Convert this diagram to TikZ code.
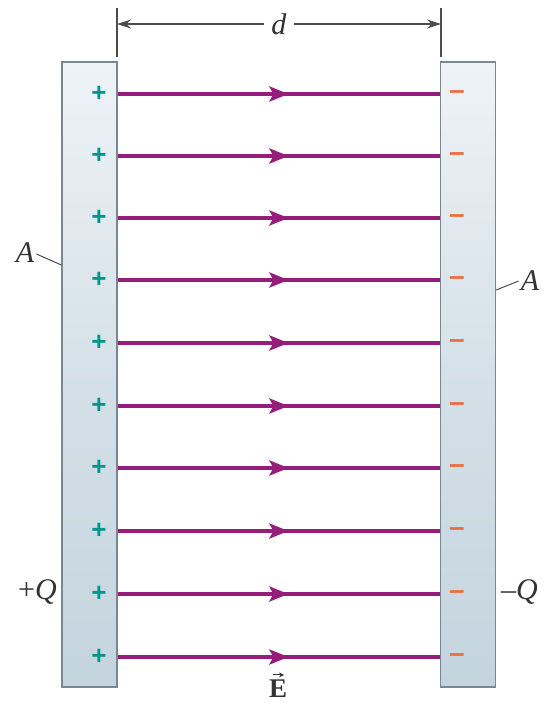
\documentclass[tikz,border=0pt]{standalone}
\usepackage{fontspec}
\setmainfont{Liberation Serif}
\newfontfamily\signfont{Liberation Sans}
\usetikzlibrary{arrows.meta,decorations.markings}
\definecolor{fieldc}{RGB}{148,30,122}
\definecolor{plusc}{RGB}{0,150,140}
\definecolor{minusc}{RGB}{238,110,60}
\definecolor{plateL}{RGB}{238,243,247}
\definecolor{plateD}{RGB}{196,212,222}
\definecolor{plateB}{RGB}{120,135,145}
\tikzset{
  plate/.style={draw=plateB, line width=1.3pt, minimum width=55pt, minimum height=625pt, inner sep=0pt,
    top color=plateL, bottom color=plateD, middle color=plateD!60!plateL},
  fieldline/.style={draw=fieldc, line width=3.6pt,
    postaction={decorate},
    decoration={markings, mark=at position 0.53 with {\arrow{Stealth[length=19pt,width=15pt,fill=fieldc,inset=4pt]}}}},
  plussign/.style={text=plusc, font=\signfont\bfseries\fontsize{26}{26}\selectfont, inner sep=0pt},
  minussign/.style={text=minusc, font=\signfont\bfseries\fontsize{28}{28}\selectfont, inner sep=0pt},
  lbl/.style={font=\fontsize{30}{32}\selectfont, inner sep=1pt, text=black!80},
  dimline/.style={draw=black!70, line width=1.2pt},
  leader/.style={draw=black!70, line width=1pt}
}
\begin{document}
\begin{tikzpicture}[x=1pt,y=-1pt]
\path[use as bounding box, fill=white] (0,0) rectangle (543,703);
\node[plate] (L) at (89.5,374.5) {};
\node[plate] (R) at (468,374.5) {};
% dimension
\coordinate (tl) at (117,8);
\coordinate (tr) at (441,8);
\draw[dimline] (tl) -- (117,57);
\draw[dimline] (tr) -- (441,57);
\node[lbl, fill=white, inner xsep=7pt] (d) at (279,24) {\textit{d}};
\draw[dimline, -{Stealth[length=14pt,width=9pt]}] (d.west) -- (117,24);
\draw[dimline, -{Stealth[length=14pt,width=9pt]}] (d.east) -- (441,24);
% field lines and charges
\foreach \i/\y in {1/94,2/156,3/218,4/280,5/343,6/406,7/468,8/531,9/594,10/657}{
  \node[plussign] (p\i) at (99,\y) {+};
  \node[minussign] (m\i) at (457,\y+1) {–};
  \draw[fieldline] (L.east |- p\i) -- (R.west |- p\i);
}
% labels
\node[lbl] (AL) at (25,253) {\textit{A}};
\draw[leader] (AL.east) ++(1,1) -- (L.west |- 0,265);
\node[lbl] (AR) at (530,281) {\textit{A}};
\draw[leader] (AR.west) ++(-1,0) -- (R.east |- 0,290);
\node[lbl, anchor=east] (QL) at (58,592) {+\textit{Q}};
\node[lbl, anchor=west] (QR) at (500,592) {–\textit{Q}};
\node[font=\fontsize{27}{28}\selectfont\bfseries, text=black!80, inner sep=0pt] (E) at (278,689) {E};
\draw[black!80, line width=1pt, -{Stealth[length=5pt,width=5pt]}] ([xshift=-5pt,yshift=5pt]E.north) -- ([xshift=6pt,yshift=5pt]E.north);
\end{tikzpicture}
\end{document}
